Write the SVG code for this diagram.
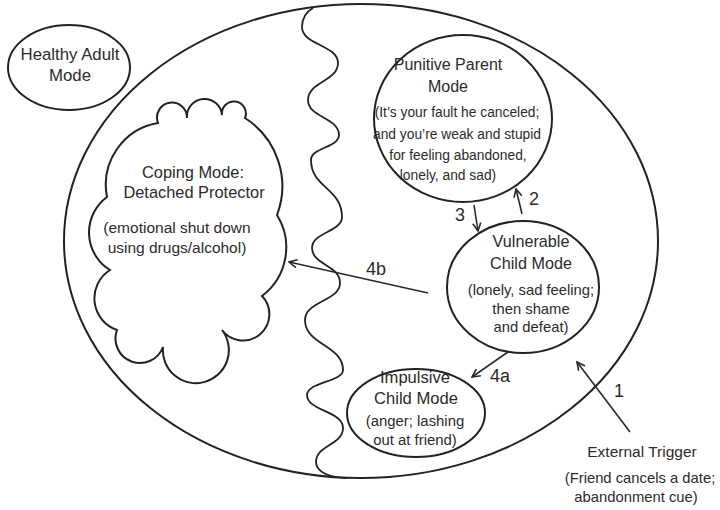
<svg xmlns="http://www.w3.org/2000/svg" width="720" height="510" viewBox="0 0 720 510">
<style>
.sh{fill:none;stroke:#222;stroke-width:2}
.wv{fill:none;stroke:#222;stroke-width:1.8}
.cn{fill:none;stroke:#2a2a2a;stroke-width:1.6}
text{font-family:"Liberation Sans",Arial,sans-serif;fill:#2b2b2b;text-anchor:middle}
.num{font-size:18px}
</style>
<defs>
<marker id="ah" viewBox="0 0 10 10" refX="9" refY="5" markerWidth="10" markerHeight="10" markerUnits="userSpaceOnUse" orient="auto">
<path d="M1,1 L9,5 L1,9" fill="none" stroke="#2a2a2a" stroke-width="1.6"/>
</marker>
</defs>
<rect width="720" height="510" fill="#ffffff"/>
<g id="self-ellipse">
<ellipse class="sh" cx="361" cy="241" rx="297" ry="237"/>
</g>
<g id="divider">
<path class="wv" d="M313,8 C306,12 302,18 302,27 C302,45 338,45 338,63 C338,81.5 308,81.5 308,100 C308,117.5 339,117.5 339,135 C339,147.5 311,147.5 311,160 C311,188 342,188 342,217 C342,232 312,232 312,248 C312,265 340,265 340,283 C340,301 305,301 305,320 C305,345 343,345 343,370 C343,382 307,382 307,395 C307,411 343,411 343,428 C343,445 316,445 316,462 C316,472 330,478 347,478"/>
</g>
<g id="healthy-adult">
<ellipse class="sh" cx="69" cy="67.5" rx="61" ry="42.5"/>
<text x="70" y="60" font-size="16.8">Healthy Adult</text>
<text x="70" y="81" font-size="16.8">Mode</text>
</g>
<g id="coping-mode">
<path class="sh" d="M158,123 A15,15 0 1 1 187,118 A17.5,17.5 0 1 1 222,115 A12,12 0 1 1 245,118 A81,81 0 0 1 277,215 A61,61 0 0 1 262,296 A26.3,26.3 0 1 1 222,330 A33,33 0 1 1 163,347 A24.5,24.5 0 1 1 117,330 A33.5,33.5 0 0 1 110,270 A44,44 0 0 1 107,197 A62.7,62.7 0 0 1 158,123 Z"/>
<text x="193" y="178" font-size="16.4">Coping Mode:</text>
<text x="194" y="198" font-size="16.4">Detached Protector</text>
<text x="177" y="233" font-size="15.5">(emotional shut down</text>
<text x="177" y="253" font-size="15.5">using drugs/alcohol)</text>
</g>
<g id="punitive-parent">
<ellipse class="sh" cx="463" cy="118.5" rx="89" ry="83.5"/>
<text x="448" y="70" font-size="16">Punitive Parent</text>
<text x="448" y="92" font-size="16">Mode</text>
<text x="457" y="117" font-size="13.8">(It’s your fault he canceled;</text>
<text x="457" y="139" font-size="13.8">and you’re weak and stupid</text>
<text x="458" y="160" font-size="13.8">for feeling abandoned,</text>
<text x="448" y="180" font-size="13.8">lonely, and sad)</text>
</g>
<g id="vulnerable-child">
<ellipse class="sh" cx="523" cy="287" rx="76" ry="66"/>
<text x="531" y="247" font-size="16.2">Vulnerable</text>
<text x="531" y="269" font-size="16.2">Child Mode</text>
<text x="531" y="295" font-size="14.8">(lonely, sad feeling;</text>
<text x="531" y="314" font-size="14.8">then shame</text>
<text x="531" y="332" font-size="14.8">and defeat)</text>
</g>
<g id="impulsive-child">
<ellipse class="sh" cx="416" cy="413" rx="69" ry="44"/>
<text x="415" y="383" font-size="16.6">Impulsive</text>
<text x="416" y="404" font-size="16.6">Child Mode</text>
<text x="415" y="426" font-size="14.9">(anger; lashing</text>
<text x="415" y="445" font-size="14.9">out at friend)</text>
</g>
<g id="external-trigger">
<text x="642" y="457" font-size="15.5">External Trigger</text>
<text x="640" y="483" font-size="14.8">(Friend cancels a date;</text>
<text x="636" y="502" font-size="14.8">abandonment cue)</text>
</g>
<g id="connectors">
<line class="cn" x1="630" y1="432" x2="577" y2="362" marker-end="url(#ah)"/>
<line class="cn" x1="522" y1="214" x2="516" y2="189" marker-end="url(#ah)"/>
<line class="cn" x1="474" y1="205" x2="478" y2="231" marker-end="url(#ah)"/>
<line class="cn" x1="428" y1="293" x2="289" y2="262" marker-end="url(#ah)"/>
<line class="cn" x1="508" y1="352" x2="472" y2="377" marker-end="url(#ah)"/>
<text class="num" x="619" y="397">1</text>
<text class="num" x="534" y="205">2</text>
<text class="num" x="460" y="221">3</text>
<text class="num" x="376" y="275">4b</text>
<text class="num" x="500" y="382">4a</text>
</g>
</svg>
